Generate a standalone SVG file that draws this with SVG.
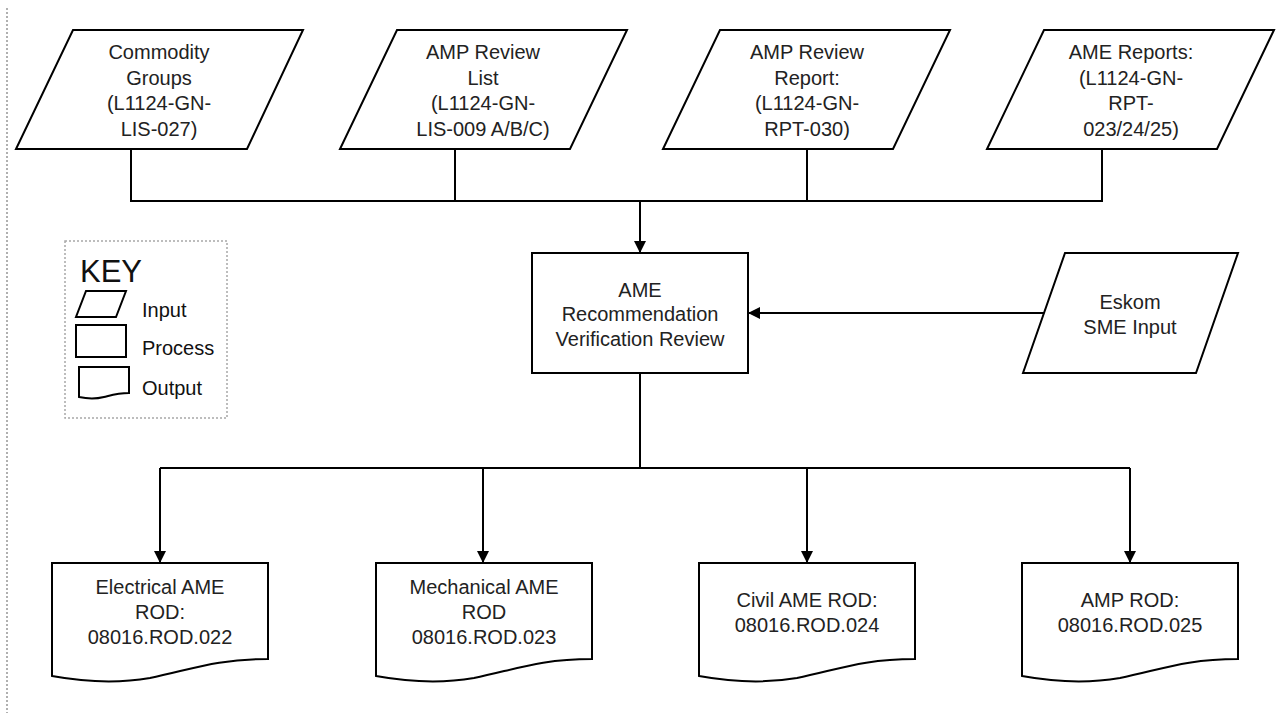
<svg xmlns="http://www.w3.org/2000/svg" width="1282" height="713" viewBox="0 0 1282 713">
  <style>
    .shape { fill: #ffffff; stroke: #000000; stroke-width: 2; stroke-linejoin: miter; }
    .lbl { font-family: "Liberation Sans", Arial, sans-serif; font-size: 20px; fill: #222222; text-anchor: middle; }
    .keylbl { font-family: "Liberation Sans", Arial, sans-serif; font-size: 20px; fill: #111111; }
    .wire { fill: none; stroke: #000000; stroke-width: 2; }
    .arrow { fill: none; stroke: #000000; stroke-width: 2; marker-end: url(#head); }
  </style>
  <defs>
    <marker id="head" viewBox="0 0 10 10" refX="10" refY="5" markerWidth="12" markerHeight="12" markerUnits="userSpaceOnUse" orient="auto">
      <path d="M0,0 L10,5 L0,10 Z" fill="#000000"/>
    </marker>
  </defs>

  <rect width="1282" height="713" fill="#ffffff"/>

  <!-- page margin guide -->
  <line x1="7" y1="8" x2="7" y2="713" stroke="#b0b0b0" stroke-width="2" stroke-dasharray="2,2"/>

  <!-- connectors -->
  <g id="connectors">
    <polyline class="wire" points="131,149 131,201 1102,201 1102,149"/>
    <line class="wire" x1="455" y1="149" x2="455" y2="201"/>
    <line class="wire" x1="807" y1="149" x2="807" y2="201"/>
    <line class="arrow" x1="640" y1="201" x2="640" y2="253"/>
    <line class="arrow" x1="1046" y1="313" x2="748" y2="313"/>
    <line class="wire" x1="640" y1="373" x2="640" y2="468"/>
    <line class="wire" x1="160" y1="468" x2="1130" y2="468"/>
    <polyline class="arrow" points="160,468 160,563"/>
    <line class="arrow" x1="483" y1="468" x2="483" y2="563"/>
    <line class="arrow" x1="807" y1="468" x2="807" y2="563"/>
    <polyline class="arrow" points="1130,468 1130,563"/>
  </g>

  <!-- inputs -->
  <g id="in-commodity">
    <polygon class="shape" points="73,30 303,30 247,149 16,149"/>
    <text class="lbl" x="159" y="59">Commodity</text>
    <text class="lbl" x="159" y="85">Groups</text>
    <text class="lbl" x="159" y="110">(L1124-GN-</text>
    <text class="lbl" x="159" y="136">LIS-027)</text>
  </g>
  <g id="in-amp-list">
    <polygon class="shape" points="397,30 627,30 570,149 340,149"/>
    <text class="lbl" x="483" y="59">AMP Review</text>
    <text class="lbl" x="483" y="85">List</text>
    <text class="lbl" x="483" y="110">(L1124-GN-</text>
    <text class="lbl" x="483" y="136">LIS-009 A/B/C)</text>
  </g>
  <g id="in-amp-report">
    <polygon class="shape" points="720,30 950,30 893,149 663,149"/>
    <text class="lbl" x="807" y="59">AMP Review</text>
    <text class="lbl" x="807" y="85">Report:</text>
    <text class="lbl" x="807" y="110">(L1124-GN-</text>
    <text class="lbl" x="807" y="136">RPT-030)</text>
  </g>
  <g id="in-ame-reports">
    <polygon class="shape" points="1044,30 1274,30 1217,149 987,149"/>
    <text class="lbl" x="1131" y="59">AME Reports:</text>
    <text class="lbl" x="1131" y="85">(L1124-GN-</text>
    <text class="lbl" x="1131" y="110">RPT-</text>
    <text class="lbl" x="1131" y="136">023/24/25)</text>
  </g>
  <g id="in-eskom">
    <polygon class="shape" points="1065,253 1238,253 1196,373 1023,373"/>
    <text class="lbl" x="1130" y="309">Eskom</text>
    <text class="lbl" x="1130" y="334">SME Input</text>
  </g>

  <!-- process -->
  <g id="proc-review">
    <rect class="shape" x="532" y="253" width="216" height="120"/>
    <text class="lbl" x="640" y="297">AME</text>
    <text class="lbl" x="640" y="321">Recommendation</text>
    <text class="lbl" x="640" y="345.5">Verification Review</text>
  </g>

  <!-- outputs -->
  <g id="out-electrical">
    <path class="shape" d="M52,563 H268 V659 C215,659 190,670 150,678 C115,684 85,682 52,676 Z"/>
    <text class="lbl" x="160" y="594">Electrical AME</text>
    <text class="lbl" x="160" y="619">ROD:</text>
    <text class="lbl" x="160" y="644">08016.ROD.022</text>
  </g>
  <g id="out-mechanical">
    <path class="shape" d="M376,563 H592 V659 C539,659 514,670 474,678 C439,684 409,682 376,676 Z"/>
    <text class="lbl" x="484" y="594">Mechanical AME</text>
    <text class="lbl" x="484" y="619">ROD</text>
    <text class="lbl" x="484" y="644">08016.ROD.023</text>
  </g>
  <g id="out-civil">
    <path class="shape" d="M699,563 H915 V659 C862,659 837,670 797,678 C762,684 732,682 699,676 Z"/>
    <text class="lbl" x="807" y="607">Civil AME ROD:</text>
    <text class="lbl" x="807" y="632">08016.ROD.024</text>
  </g>
  <g id="out-amp">
    <path class="shape" d="M1022,563 H1238 V659 C1185,659 1160,670 1120,678 C1085,684 1055,682 1022,676 Z"/>
    <text class="lbl" x="1130" y="607">AMP ROD:</text>
    <text class="lbl" x="1130" y="632">08016.ROD.025</text>
  </g>

  <!-- legend -->
  <g id="key">
    <rect x="65" y="241" width="162" height="177" fill="none" stroke="#a8a8a8" stroke-width="1.5" stroke-dasharray="2,2"/>
    <text x="80" y="282" font-family="Liberation Sans, Arial, sans-serif" font-size="31" fill="#111111">KEY</text>
    <polygon class="shape" points="86,291 126,291 116,317 76,317"/>
    <text class="keylbl" x="142" y="317">Input</text>
    <rect class="shape" x="76" y="325" width="50" height="32"/>
    <text class="keylbl" x="142" y="355">Process</text>
    <path class="shape" d="M79,367 H129 V393 C118,393 112,395 104,397 C96,399 88,399 79,397 Z"/>
    <text class="keylbl" x="142" y="395">Output</text>
  </g>
</svg>
